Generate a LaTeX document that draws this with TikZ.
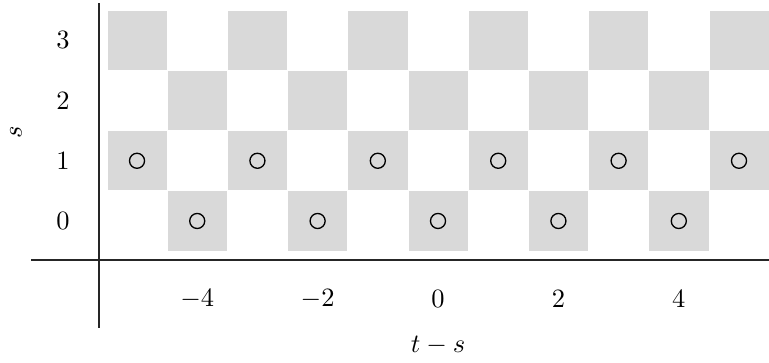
\documentclass[tikz,border=0pt]{standalone}
\begin{document}
\begin{tikzpicture}[x=0.8cm,y=0.8cm,
  cell/.style={fill=black!15,draw=white,line width=0.3pt},
  mark circ/.style={draw=black,line width=0.5pt},
  axisline/.style={line width=0.5pt,draw=black!85}]
\useasboundingbox (-7.276,-2.359) rectangle (5.498,3.671);
% cells
\foreach \r in {0,...,3}{
  \foreach \c in {-5,...,5}{
    \pgfmathtruncatemacro{\p}{mod(\c+\r+20,2)}
    \ifnum\p=0
      \path[cell] (\c-0.5,\r-0.5) rectangle (\c+0.5,\r+0.5);
    \fi
  }
}
% circles
\foreach \c in {-4,-2,0,2,4}{
  \draw[mark circ] (\c,0) circle (0.125);
}
\foreach \c in {-5,-3,-1,1,3,5}{
  \draw[mark circ] (\c,1) circle (0.125);
}
% axes
\coordinate (hl) at (-6.76,-0.648);
\coordinate (hr) at (5.5,-0.648);
\coordinate (vt) at (-5.63,3.62);
\coordinate (vb) at (-5.63,-1.777);
\draw[axisline] (hl) -- (hr);
\draw[axisline] (vt) -- (vb);
% row labels
\foreach \r in {0,...,3}{
  \node (row\r) at (-6.23,\r) {$\r$};
}
% tick labels
\foreach \c in {-4,-2,0,2,4}{
  \node (tick\c) at (\c,-1.29) {$\c$};
}
\node (xlab) at (0,-2.075) {$t-s$};
\node[rotate=90] (ylab) at (-7.01,1.48) {$s$};
\end{tikzpicture}
\end{document}
